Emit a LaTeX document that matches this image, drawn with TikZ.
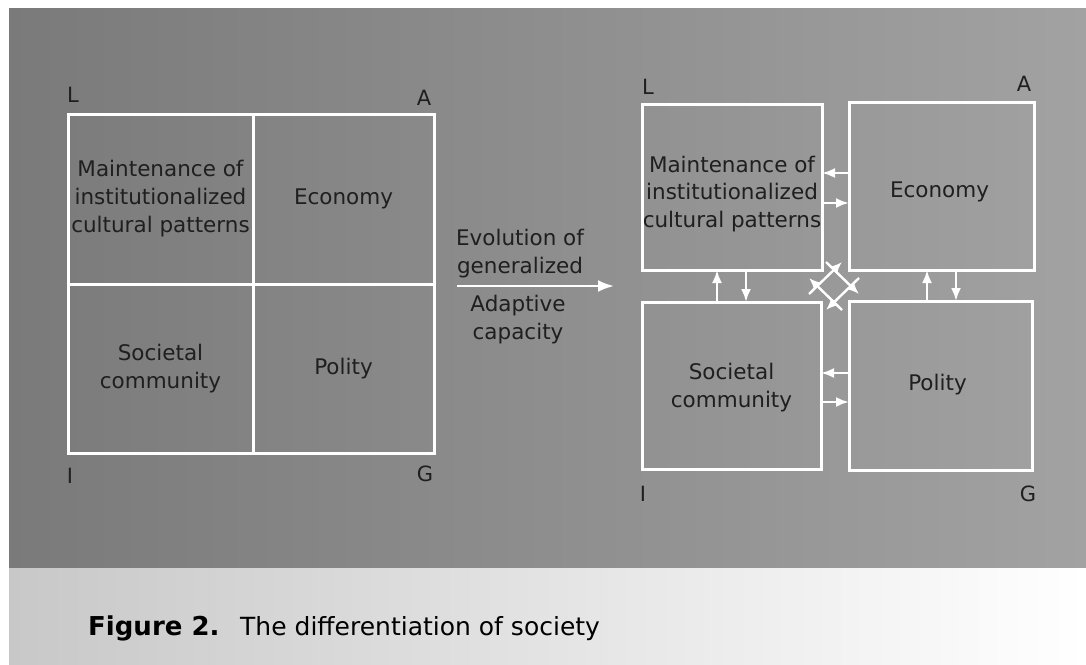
\documentclass[tikz,border=0pt]{standalone}
\usepackage{fontspec}
\setmainfont{DejaVu Sans}
\usetikzlibrary{arrows.meta}
\usetikzlibrary{calc}
\usetikzlibrary{positioning}
\definecolor{inkgray}{HTML}{1F1F1F}
\definecolor{boardleft}{HTML}{7A7A7A}
\definecolor{boardright}{HTML}{A2A2A2}
\definecolor{pageleft}{HTML}{C8C8C8}
\tikzset{cell/.style={draw=white,line width=3pt,inner sep=0pt,outer sep=0pt,
    text=inkgray,align=center,font=\fontsize{21.5}{28}\selectfont}}
\tikzset{note/.style={text=inkgray,align=center,font=\fontsize{21.5}{27.5}\selectfont}}
\tikzset{corner/.style={text=inkgray,inner sep=0pt,font=\fontsize{21}{25}\selectfont}}
\tikzset{flow/.style={draw=white,line width=2.4pt,-{Latex[length=13pt,width=10pt]}}}
\tikzset{twist/.style={draw=white,line width=2.4pt,-{Latex[length=12pt,width=10pt]}}}
\newcommand{\backdrop}{
    \fill[white] (0,0) rectangle (1086,664);
    \fill[left color=boardleft,right color=boardright] (9,8) rectangle (1086,568);
    \fill[left color=pageleft,right color=white] (9,568) rectangle (1086,664);
}

\begin{document}
\begin{tikzpicture}[x=1pt,y=-1pt]
        \useasboundingbox (0,0) rectangle (1086,664);
        \backdrop

        % undifferentiated society
        \node[cell,minimum width=185pt,minimum height=170pt] (lm) at (160.5,199)
            {Maintenance of\\institutionalized\\cultural patterns};
        \node[cell,minimum width=181pt,minimum height=170pt] (le) at (343.5,199) {Economy};
        \node[cell,minimum width=185pt,minimum height=169pt] (ls) at (160.5,368.5)
            {Societal\\community};
        \node[cell,minimum width=181pt,minimum height=169pt] (lp) at (343.5,368.5) {Polity};

        \node[corner] (lL) at (73,95) {L};
        \node[corner] (lA) at (424,98) {A};
        \node[corner] (lI) at (70,476) {I};
        \node[corner] (lG) at (425,474) {G};

        % evolution arrow
        \coordinate (evo) at (457,286);
        \coordinate (volved) at (614,286);
        \draw[flow,-{Latex[length=16pt,width=12pt]}] (evo) -- (volved);
        \node[note] (gen) at (520,253.5) {Evolution of\\generalized};
        \node[note] (adapt) at (518,319.5) {Adaptive\\capacity};

        % differentiated society
        \node[cell,minimum width=180pt,minimum height=166pt] (ml) at (732,187) {};
        \node[cell,minimum width=185pt,minimum height=168pt] (er) at (941.5,186) {};
        \node[cell,minimum width=179pt,minimum height=167pt] (sr) at (731.5,385.5) {};
        \node[cell,minimum width=183pt,minimum height=169pt] (pr) at (940.5,385.5) {};

        \node[note] (mltext) at ($(ml.center)+(0,7)$)
            {Maintenance of\\institutionalized\\cultural patterns};
        \node[note] (ertext) at ($(er.center)+(-2,6)$) {Economy};
        \node[note] (srtext) at ($(sr.center)+(0,2)$) {Societal\\community};
        \node[note] (prtext) at ($(pr.center)+(-3,-1)$) {Polity};

        \node[corner] (rL) at (648,87) {L};
        \node[corner] (rA) at (1024,84) {A};
        \node[corner] (rI) at (643,494) {I};
        \node[corner] (rG) at (1028,494) {G};

        \draw[flow] (er.west |- 0,173) -- (ml.east |- 0,173);
        \draw[flow] (ml.east |- 0,203) -- (er.west |- 0,203);
        \draw[flow] (pr.west |- 0,373) -- (sr.east |- 0,373);
        \draw[flow] (sr.east |- 0,402) -- (pr.west |- 0,402);
        \draw[flow] (sr.north -| 717,0) -- (ml.south -| 717,0);
        \draw[flow] (ml.south -| 746,0) -- (sr.north -| 746,0);
        \draw[flow] (pr.north -| 927,0) -- (er.south -| 927,0);
        \draw[flow] (er.south -| 956,0) -- (pr.north -| 956,0);

        \coordinate (hub) at (834,286);
        \foreach \a/\b/\c/\d in {8/24/-25/-8, -8/-24/25/8, -25/8/8/-24, 25/-8/-8/24}
            \draw[twist] ($(hub)+(\a,\b)$) -- ($(hub)+(\c,\d)$);

        % caption
        \node[anchor=base west,inner sep=0pt,font=\fontsize{26}{30}\selectfont\bfseries]
            (fig) at (88,635) {Figure 2.};
        \node[anchor=base west,inner sep=0pt,font=\fontsize{25}{30}\selectfont]
            (title) at (240,635) {The differentiation of society};
\end{tikzpicture}
\end{document}
